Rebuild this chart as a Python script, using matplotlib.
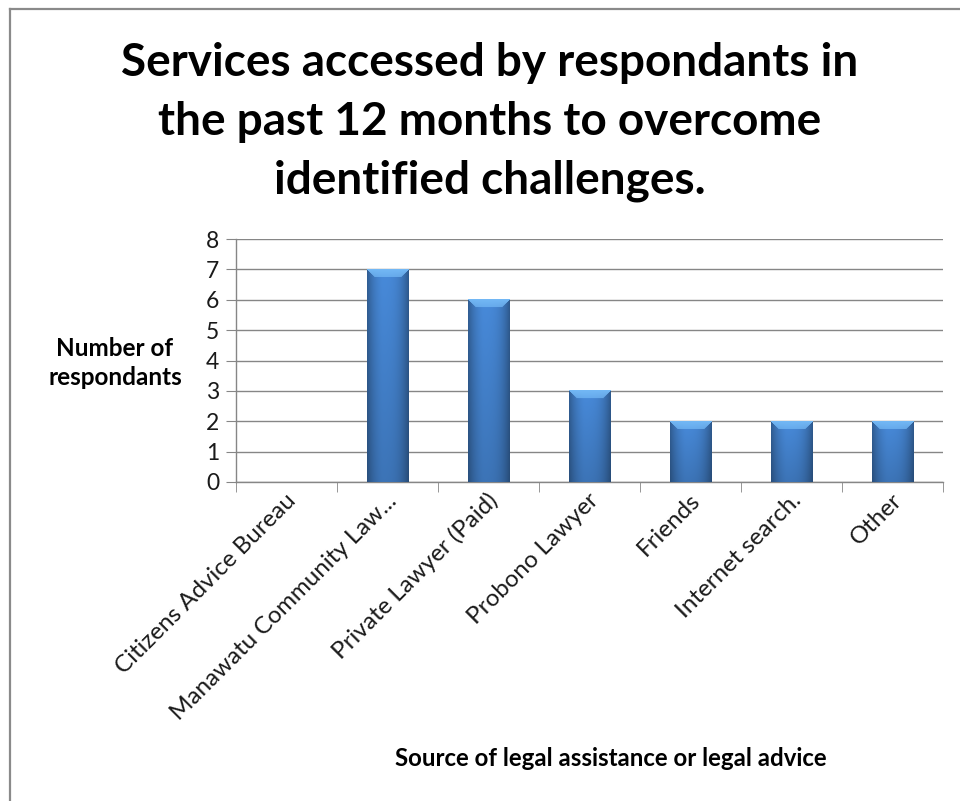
import numpy as np
import matplotlib.pyplot as plt
from matplotlib.lines import Line2D
from matplotlib.transforms import ScaledTranslation

categories = ['Citizens Advice Bureau', 'Manawatu Community Law...', 'Private Lawyer (Paid)',
              'Probono Lawyer', 'Friends', 'Internet search.', 'Other']
values = [0, 7, 6, 3, 2, 2, 2]

title = 'Services accessed by respondants in\nthe past 12 months to overcome\nidentified challenges.'
ylabel = 'Number of\nrespondants'
xlabel = 'Source of legal assistance or legal advice'

plt.rcParams['font.family'] = ['Lato', 'DejaVu Sans']


def shade_bar(ax, bar):
    # cylinder-like shading, built from the bar's own geometry
    x0, y0 = bar.get_x(), bar.get_y()
    w, h = bar.get_width(), bar.get_height()
    bar.set_visible(False)
    if h <= 0:
        return
    p0 = ax.transData.transform((x0, y0))
    p1 = ax.transData.transform((x0 + w, y0 + h))
    nx = max(int(round(p1[0] - p0[0])), 2)
    ny = max(int(round(p1[1] - p0[1])), 2)
    base = np.array([0.27, 0.52, 0.82])
    xs = np.linspace(-1, 1, nx)
    fx = 1.0 - 0.30 * np.abs(xs) ** 2.5 + 0.05 * (1 - np.abs(xs + 0.3))
    ys = np.linspace(0, 1, ny)[:, None]
    fy = 0.84 + 0.16 * ys
    img = np.clip(base[None, None, :] * fx[None, :, None] * fy[:, :, None], 0, 1)
    img = img[::-1]
    bev = 8
    light = np.array([0.45, 0.72, 0.96])
    for r in range(min(bev, ny)):
        c0 = r
        c1 = nx - c0
        t = r / bev
        img[r, c0:c1] = light * (1 - 0.3 * t) + img[r, c0:c1] * 0.3 * t
    ax.imshow(img, extent=(x0, x0 + w, y0, y0 + h), aspect='auto',
              interpolation='bilinear', zorder=3)


def main():
    fig = plt.figure(figsize=(9.6, 8.01), dpi=100)
    ax = fig.add_axes([236 / 960, 1 - 482 / 801, 707 / 960, 243 / 801])

    x = np.arange(len(categories))
    bars = ax.bar(x, values, width=0.41, color='#3F7ECC', zorder=3)

    ax.set_xlim(-0.5, len(categories) - 0.5)
    ax.set_ylim(0, 8)
    ax.set_yticks(range(0, 9))
    ax.set_xticks(x)
    ax.set_xticklabels(categories, rotation=45, ha='right', va='center',
                       rotation_mode='anchor', fontsize=17.4, color='#1a1a1a')
    ax.set_xticks(np.arange(-0.5, len(categories)), minor=True)
    ax.tick_params(axis='x', which='major', length=0, pad=11)
    ax.tick_params(axis='x', which='minor', length=7, color='#868686')
    ax.tick_params(axis='y', length=7, color='#868686', labelsize=16.5, pad=5,
                   labelcolor='#1a1a1a')

    ax.grid(axis='y', color='#868686', linewidth=1, zorder=0)
    for s in ['top', 'right']:
        ax.spines[s].set_visible(False)
    for s in ['left', 'bottom']:
        ax.spines[s].set_color('#868686')
        ax.spines[s].set_linewidth(1)

    fig.canvas.draw()
    for b in bars:
        shade_bar(ax, b)
    ax.set_xlim(-0.5, len(categories) - 0.5)
    ax.set_ylim(0, 8)

    # nudge rotated category labels a little to the right
    shift = ScaledTranslation(6 / 100, 0, fig.dpi_scale_trans)
    for lbl in ax.get_xticklabels():
        lbl.set_transform(lbl.get_transform() + shift)

    fig.text(490 / 960, 1 - 122 / 801, title, ha='center', va='center',
             fontsize=33, fontweight='bold', linespacing=1.5)
    fig.text(115 / 960, 1 - 363 / 801, ylabel, ha='center', va='center',
             fontsize=17.5, fontweight='bold', linespacing=1.3)
    fig.text(611 / 960, 1 - 758 / 801, xlabel, ha='center', va='center',
             fontsize=17.3, fontweight='bold')

    # chart frame (left and top edges visible)
    fig.add_artist(Line2D([10 / 960, 10 / 960], [0, 1 - 9 / 801], color='#8a8a8a', lw=1.6))
    fig.add_artist(Line2D([10 / 960, 1], [1 - 9 / 801, 1 - 9 / 801], color='#8a8a8a', lw=1.6))

    fig.savefig('out.png', dpi=100)


if __name__ == '__main__':
    main()
